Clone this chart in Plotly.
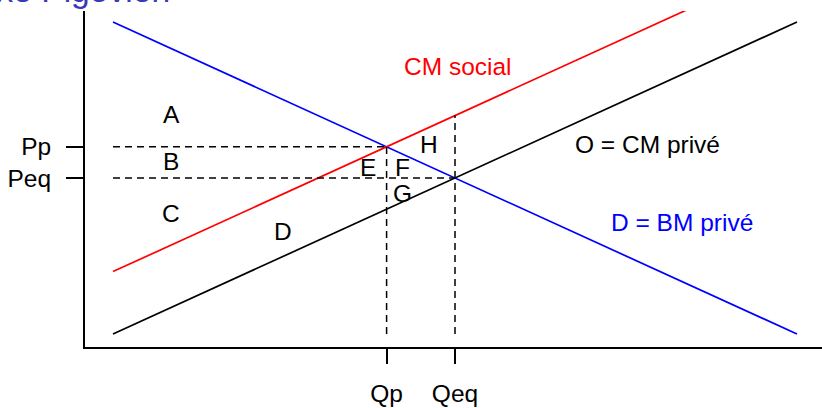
import plotly.graph_objects as go

# ---- data (model units) ----
q_range = [0, 10]
supply_private = [0, 10]      # O = CM privé : P = Q
demand_private = [10, 0]      # D = BM privé : P = 10 - Q
social_cost = [2, 12]         # CM social : P = Q + 2
Qp, Qeq = 4, 5
Pp, Peq = 6, 5
tick_q = [Qp, Qeq]
tick_q_labels = ["Qp", "Qeq"]
tick_p = [Pp, Peq]
tick_p_labels = ["Pp", "Peq"]

area_labels = ["A", "B", "C", "D", "E", "F", "G", "H"]
area_x = [0.85, 0.85, 0.85, 2.49, 3.73, 4.23, 4.23, 4.62]
area_y = [7.05, 5.54, 3.85, 3.27, 5.35, 5.35, 4.49, 6.06]

curve_labels = ["CM social", "O = CM privé", "D = BM privé"]
curve_label_x = [5.04, 7.82, 8.32]
curve_label_y = [8.56, 6.06, 3.56]
curve_label_colors = ["#FF0000", "#000000", "#0000FF"]

title_text = "Taxe Pigovien"

FONT = "Liberation Sans, Arial, Helvetica, sans-serif"
FS = 24.5

fig = go.Figure()

fig.add_trace(go.Scatter(x=q_range, y=demand_private, mode="lines",
                         line=dict(color="#0000FF", width=1.7), hoverinfo="skip"))
fig.add_trace(go.Scatter(x=q_range, y=supply_private, mode="lines",
                         line=dict(color="#000000", width=1.7), hoverinfo="skip"))
fig.add_trace(go.Scatter(x=q_range, y=social_cost, mode="lines",
                         line=dict(color="#FF0000", width=1.7), hoverinfo="skip"))

dash = "7px,5px"
# dashed guides
fig.add_trace(go.Scatter(x=[0, Qp], y=[Pp, Pp], mode="lines",
                         line=dict(color="black", width=1.5, dash=dash), hoverinfo="skip"))
fig.add_trace(go.Scatter(x=[0, Qeq], y=[Peq, Peq], mode="lines",
                         line=dict(color="black", width=1.5, dash=dash), hoverinfo="skip"))
fig.add_trace(go.Scatter(x=[Qp, Qp], y=[0, Pp], mode="lines",
                         line=dict(color="black", width=1.5, dash=dash), hoverinfo="skip"))
fig.add_trace(go.Scatter(x=[Qeq, Qeq], y=[0, Qeq + social_cost[0]], mode="lines",
                         line=dict(color="black", width=1.5, dash=dash), hoverinfo="skip"))

for t, x, y in zip(area_labels, area_x, area_y):
    fig.add_annotation(x=x, y=y, text=t, showarrow=False,
                       font=dict(family=FONT, size=FS, color="black"),
                       xanchor="center", yanchor="middle")

for t, x, y, c in zip(curve_labels, curve_label_x, curve_label_y, curve_label_colors):
    fig.add_annotation(x=x, y=y, text=t, showarrow=False,
                       font=dict(family=FONT, size=FS, color=c),
                       xanchor="center", yanchor="middle")

# title, mostly cut off at the top as in the reference
fig.add_annotation(xref="paper", yref="paper", x=(-41 - 85) / 737, y=(347 + 10) / 336,
                   text=title_text, showarrow=False,
                   font=dict(family=FONT, size=33.6, color="#3a3ab5"),
                   xanchor="left", yanchor="middle")

fig.update_layout(
    width=822, height=408,
    margin=dict(l=85, r=0, t=11, b=61),
    paper_bgcolor="white", plot_bgcolor="white",
    showlegend=False,
    font=dict(family=FONT, size=FS, color="black"),
)
fig.update_xaxes(range=[(85 - 113) / 68.4, (822 - 113) / 68.4],
                 showgrid=False, zeroline=False,
                 showline=True, linecolor="black", linewidth=2,
                 ticks="outside", ticklen=15, tickwidth=1.7, tickcolor="black",
                 tickvals=tick_q, ticktext=tick_q_labels,
                 ticklabelstandoff=9,
                 tickfont=dict(family=FONT, size=FS, color="black"),
                 automargin=False)
fig.update_yaxes(range=[(334 - 347) / 31.2, (334 - 11) / 31.2],
                 showgrid=False, zeroline=False,
                 showline=True, linecolor="black", linewidth=2,
                 ticks="outside", ticklen=17, tickwidth=1.7, tickcolor="black",
                 tickvals=tick_p, ticktext=tick_p_labels,
                 ticklabelstandoff=10,
                 tickfont=dict(family=FONT, size=FS, color="black"),
                 automargin=False)

fig.write_html("out.html", config={"displayModeBar": False},
               post_script="document.body.style.margin='0px';document.body.style.overflow='hidden';")
